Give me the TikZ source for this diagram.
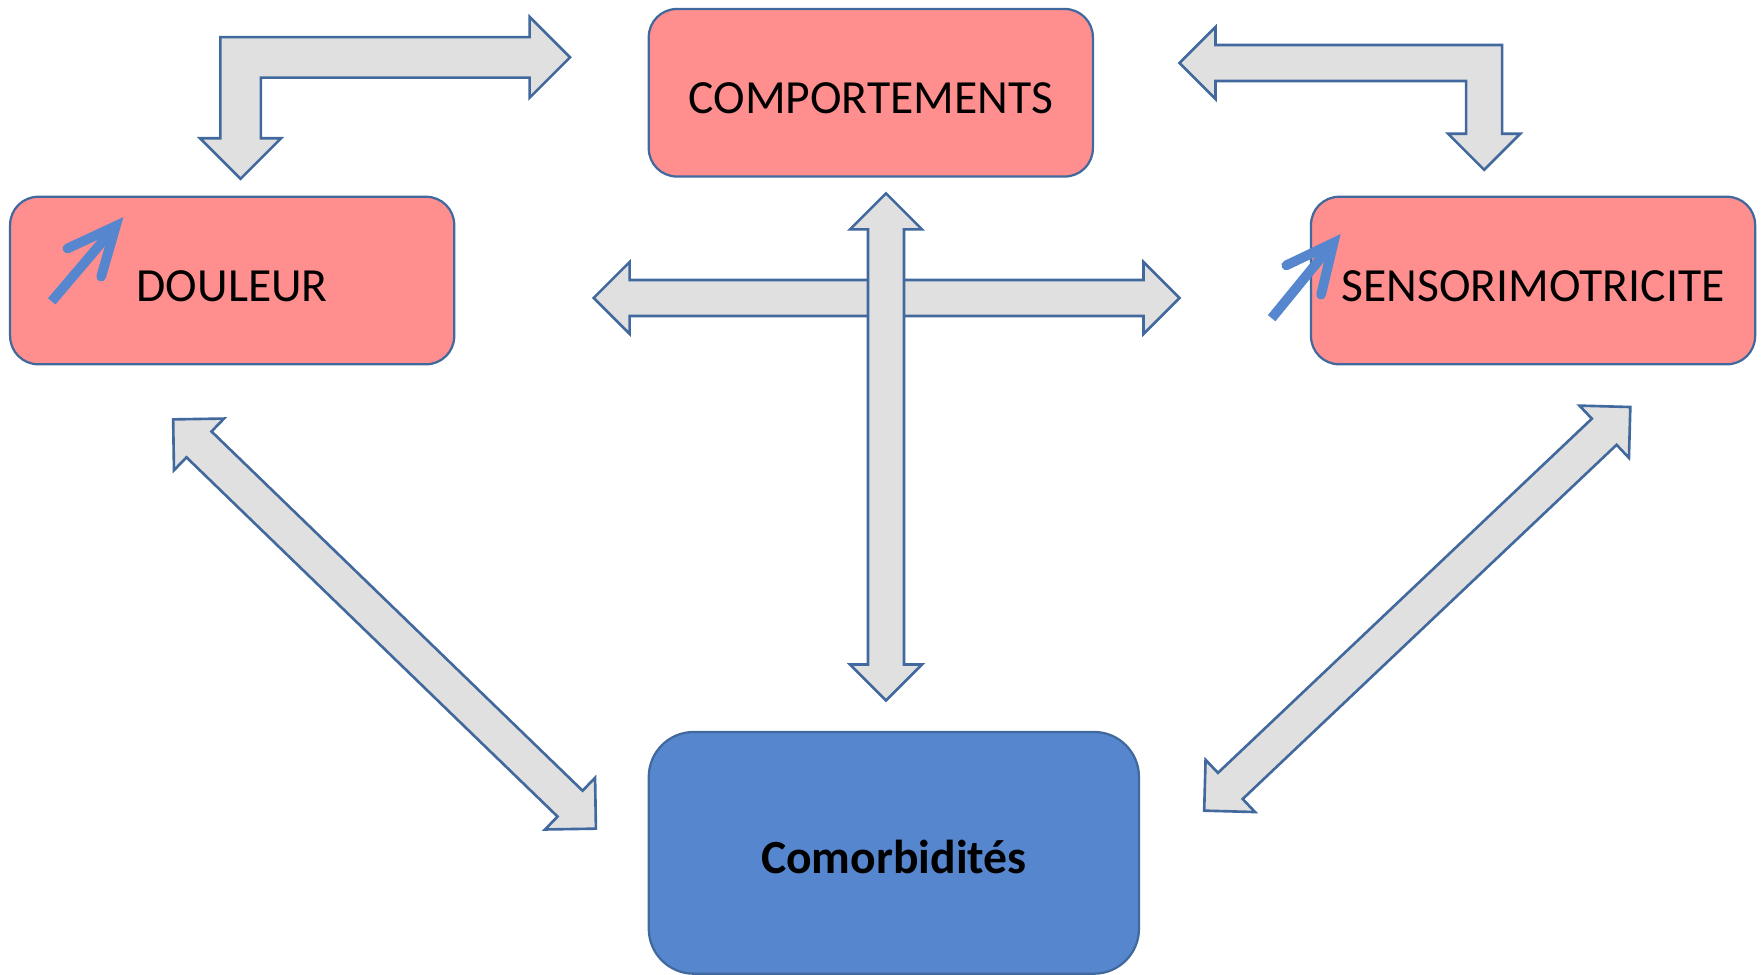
\documentclass[tikz,border=0pt]{standalone}
\usepackage{fontspec}
\setmainfont{Carlito}
\usetikzlibrary{calc}
\definecolor{cpink}{HTML}{FF8F8F}
\definecolor{cblue}{HTML}{5586CE}
\definecolor{cedge}{HTML}{41699E}
\definecolor{cgrey}{HTML}{E0E0E0}
\tikzset{
  every picture/.style={x=0.3pt, y=-0.3pt},
  box/.style={draw=cedge, fill=#1, line width=0.6pt, rounded corners=7.5pt, minimum width=118.5pt, minimum height=44.7pt, inner sep=0pt, text height=11pt, text depth=0pt, font=\fontsize{12.7}{15}\selectfont},
  box/.default=cpink,
  blockarrow/.style={draw=cedge, fill=cgrey, line width=0.7pt, line join=miter},
  rise/.style={draw=cblue, line width=2.6pt},
}
% straight block arrow with a head at both tips
\newcommand{\dblarrow}[2]{%
  \draw[blockarrow] let \p1=(#1), \p2=(#2), \n1={atan2(\y2-\y1,\x2-\x1)} in
    (\p1) -- ($(\p1)+({\n1}:9.6pt)+({\n1+90}:9.6pt)$) -- ($(\p1)+({\n1}:9.6pt)+({\n1+90}:4.8pt)$)
    -- ($(\p2)+({\n1+180}:9.6pt)+({\n1+90}:4.8pt)$) -- ($(\p2)+({\n1+180}:9.6pt)+({\n1+90}:9.6pt)$) -- (\p2)
    -- ($(\p2)+({\n1+180}:9.6pt)+({\n1-90}:9.6pt)$) -- ($(\p2)+({\n1+180}:9.6pt)+({\n1-90}:4.8pt)$)
    -- ($(\p1)+({\n1}:9.6pt)+({\n1-90}:4.8pt)$) -- ($(\p1)+({\n1}:9.6pt)+({\n1-90}:9.6pt)$) -- cycle;}
% bent block arrow: #1 lower tip, #2 side tip, #3 side (1 right, -1 left), #4 shaft, #5 head, #6 head length
\newcommand{\bentarrow}[6]{%
  \draw[blockarrow] let \p1=(#1), \p2=(#2) in
    ({\x1-(#3)*#4}, {\y2+#4}) -- ({\x2-(#3)*#6}, {\y2+#4}) -- ({\x2-(#3)*#6}, {\y2+#5}) -- (\p2)
    -- ({\x2-(#3)*#6}, {\y2-#5}) -- ({\x2-(#3)*#6}, {\y2-#4}) -- ({\x1+(#3)*#4}, {\y2-#4})
    -- ({\x1+(#3)*#4}, {\y1+#6}) -- ({\x1+(#3)*#5}, {\y1+#6}) -- (\p1)
    -- ({\x1-(#3)*#5}, {\y1+#6}) -- ({\x1-(#3)*#4}, {\y1+#6}) -- cycle;}

\begin{document}
\begin{tikzpicture}
  \useasboundingbox (0,0) rectangle (1568,867);
  % the four boxes
  \node[box] (comp) at (774.5,82.5) {COMPORTEMENTS};
  \node[box] (doul) at (206.5,249.5) {DOULEUR};
  \node[box] (sens) at (1363.5,249.5) {SENSORIMOTRICITE};
  \node[box=cblue, minimum width=130.8pt, minimum height=64.5pt, rounded corners=12pt] (como) at (795,758.5) {\textbf{Comorbidités}};
  % free ends of the block arrows
  \coordinate (b1) at (214,159);
  \coordinate (b2) at (507,51);
  \coordinate (b3) at (1320,151);
  \coordinate (b4) at (1049,56);
  \coordinate (hl) at (528,265);
  \coordinate (hr) at (1049,265);
  \coordinate (vt) at (788,172);
  \coordinate (vb) at (788,623);
  \coordinate (dla) at (154,373);
  \coordinate (dlb) at (530,737);
  \coordinate (dra) at (1450,362);
  \coordinate (drb) at (1071,721);
  \bentarrow{b1}{b2}{1}{5.4pt}{10.8pt}{10.8pt}
  \bentarrow{b3}{b4}{-1}{4.8pt}{9.6pt}{9.6pt}
  \foreach \s/\t in {hl/hr, vt/vb, dla/dlb, dra/drb} {
    \dblarrow{\s}{\t}
  }
  % rising arrows
  \draw[rise] (46,268) -- (97,208);
  \draw[rise, line cap=round, line join=miter] (60,221) -- (103,201) -- (90,246);
  \draw[rise] (1131,283) -- (1180,223);
  \draw[rise, line cap=round, line join=miter] (1144,236) -- (1186,216) -- (1175,262);
\end{tikzpicture}
\end{document}
